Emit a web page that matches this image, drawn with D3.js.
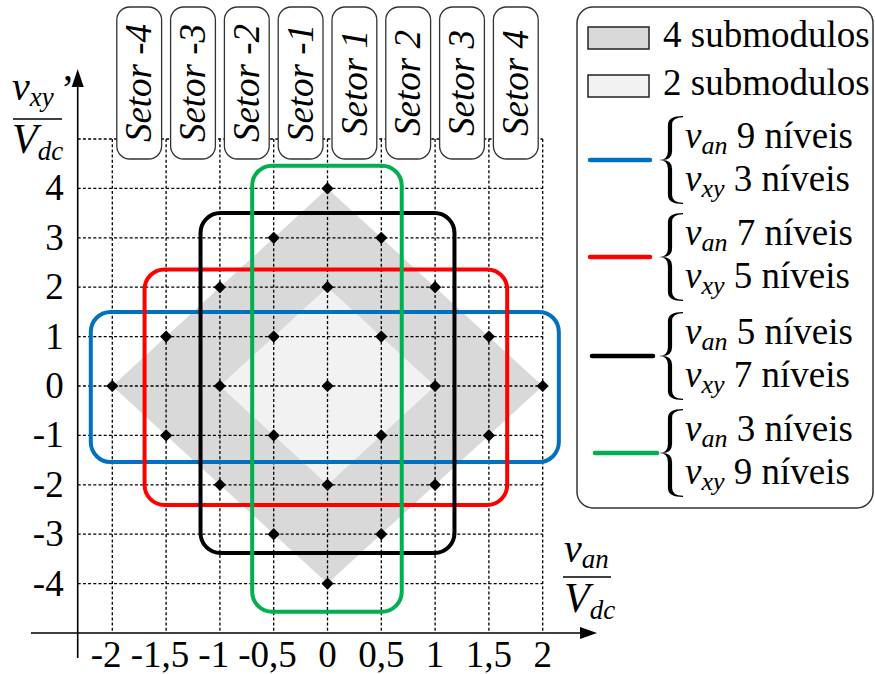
<!DOCTYPE html>
<html>
<head>
<meta charset="utf-8">
<script src="https://cdn.jsdelivr.net/npm/d3@7"></script>
<style>
  body { margin: 0; background: #fff; }
  svg { display: block; }
  svg text, svg tspan { font-family: "Liberation Serif" !important; fill: #000; }
</style>
</head>
<body>
<svg id="chart" width="875" height="674"></svg>
<script>
// Axis ticks (v_an / Vdc horizontally, v_xy' / Vdc vertically)
const xTicks = [-2, -1.5, -1, -0.5, 0, 0.5, 1, 1.5, 2];
const xTickLabels = ["-2", "-1,5", "-1", "-0,5", "0", "0,5", "1", "1,5", "2"];
const yTicks = [4, 3, 2, 1, 0, -1, -2, -3, -4];
const yTickLabels = ["4", "3", "2", "1", "0", "-1", "-2", "-3", "-4"];

// Sectors along v_an
const sectorLabels = ["Setor -4", "Setor -3", "Setor -2", "Setor -1", "Setor 1", "Setor 2", "Setor 3", "Setor 4"];
const sectorStart = [-2, -1.5, -1, -0.5, 0, 0.5, 1, 1.5];
const sectorEnd = [-1.5, -1, -0.5, 0, 0.5, 1, 1.5, 2];

// Available voltage vectors
const pointX = [0, -0.5, 0.5, -1, 0, 1, -1.5, -0.5, 0.5, 1.5, -2, -1, 0, 1, 2, -1.5, -0.5, 0.5, 1.5, -1, 0, 1, -0.5, 0.5, 0];
const pointY = [4, 3, 3, 2, 2, 2, 1, 1, 1, 1, 0, 0, 0, 0, 0, -1, -1, -1, -1, -2, -2, -2, -3, -3, -4];

// Regions reachable with 4 and 2 submodules
const region4X = [0, 2, 0, -2];
const region4Y = [4, 0, -4, 0];
const region2X = [0, 1, 0, -1];
const region2Y = [2, 0, -2, 0];
const regionNames = ["4 submodulos", "2 submodulos"];

// Operating windows: levels of v_an and v_xy, and their limits
const vanLevels = [9, 7, 5, 3];
const vxyLevels = [3, 5, 7, 9];
const limitXMin = [-2.2, -1.7, -1.18, -0.7];
const limitXMax = [2.15, 1.67, 1.18, 0.69];
const limitYMin = [-1.54, -2.41, -3.38, -4.57];
const limitYMax = [1.5, 2.36, 3.5, 4.46];

const windowColors = ["#0070c0", "#ff0000", "#000000", "#00b050"];
const regionColors = ["#d9d9d9", "#f2f2f2"];
const SERIF = '"Liberation Serif"';
const FONT = 37;

const svg = d3.select("#chart");
const txt = (g) => g.append("text").attr("font-family", "Liberation Serif")
  .style("font-family", SERIF, "important");

const x = d3.scaleLinear().domain([-2, 2]).range([112.3, 542.7]);
const y = d3.scaleLinear().domain([-5, 5]).range([633, 139]);
const axisX = 77.7;

// Shaded regions
const poly = (xs, ys) => xs.map((v, i) => [x(v), y(ys[i])]);
svg.append("polygon").attr("points", poly(region4X, region4Y).join(" ")).attr("fill", regionColors[0]);
svg.append("polygon").attr("points", poly(region2X, region2Y).join(" ")).attr("fill", regionColors[1]);

// Dotted grid
const grid = svg.append("g").attr("stroke", "#000").attr("stroke-width", 1.3).attr("stroke-dasharray", "3,2.2");
grid.selectAll("line.v").data(xTicks).join("line")
  .attr("x1", d => x(d)).attr("x2", d => x(d)).attr("y1", y(5)).attr("y2", y(-5));
grid.selectAll("line.h").data([5].concat(yTicks)).join("line")
  .attr("x1", axisX).attr("x2", x(2)).attr("y1", d => y(d)).attr("y2", d => y(d));

// Sector labels
const sectors = svg.append("g");
sectorLabels.forEach((lab, i) => {
  const x0 = x(sectorStart[i]) + 4.5, x1 = x(sectorEnd[i]) - 4.5;
  sectors.append("rect").attr("x", x0).attr("y", 7).attr("width", x1 - x0).attr("height", 152)
    .attr("rx", 13).attr("fill", "#fff").attr("stroke", "#333").attr("stroke-width", 1.3);
  txt(sectors)
    .attr("transform", `translate(${(x0 + x1) / 2},83) rotate(-90)`)
    .attr("text-anchor", "middle").attr("dy", "0.33em")
    .style("font-style", "italic").attr("font-size", FONT).text(lab);
});

// Operating windows
svg.append("g").selectAll("rect").data(vanLevels).join("rect")
  .attr("x", (d, i) => x(limitXMin[i]))
  .attr("width", (d, i) => x(limitXMax[i]) - x(limitXMin[i]))
  .attr("y", (d, i) => y(limitYMax[i]))
  .attr("height", (d, i) => y(limitYMin[i]) - y(limitYMax[i]))
  .attr("rx", 20).attr("fill", "none")
  .attr("stroke", (d, i) => windowColors[i]).attr("stroke-width", 4);

// Vector points
const diamond = d3.symbol(d3.symbolSquare, 74);
svg.append("g").selectAll("path").data(pointX).join("path")
  .attr("d", diamond)
  .attr("transform", (d, i) => `translate(${x(d)},${y(pointY[i])}) rotate(45)`)
  .attr("fill", "#000");

// Axes lines with arrows
const axes = svg.append("g").attr("stroke", "#000").attr("stroke-width", 1.6);
axes.append("line").attr("x1", 31).attr("x2", 585).attr("y1", 633).attr("y2", 633);
axes.append("line").attr("x1", axisX).attr("x2", axisX).attr("y1", 658).attr("y2", 82);
svg.append("path").attr("d", `M597,633 L580,627 L580,639 Z`).attr("fill", "#000");
svg.append("path").attr("d", `M${axisX},69 L${axisX - 6},87 L${axisX + 6},87 Z`).attr("fill", "#000");

// Tick labels: numeric part centred on its grid line, sign hanging to the left
const hyphenW = 0.333 * FONT;
const xLab = svg.append("g");
xTicks.forEach((v, i) => {
  txt(xLab).attr("x", x(v) - (xTickLabels[i].startsWith("-") ? hyphenW / 2 : 0)).attr("y", 667)
    .attr("text-anchor", "middle").attr("font-size", FONT).text(xTickLabels[i]);
});
const yLab = svg.append("g");
yTicks.forEach((v, i) => {
  txt(yLab).attr("x", axisX - 14).attr("y", y(v) + 12)
    .attr("text-anchor", "end").attr("font-size", FONT).text(yTickLabels[i]);
});

// Axis titles
function fraction(g, xl, yNum, topSub, bar, yDen, bottomSub, prime) {
  const t1 = txt(g).attr("x", xl).attr("y", yNum).style("font-style", "italic");
  t1.append("tspan").attr("font-size", 40).text("v");
  t1.append("tspan").attr("font-size", 27).attr("dy", 6).text(topSub);
  if (prime) txt(g).attr("x", prime[0]).attr("y", prime[1]).attr("font-size", 40).text("’");
  g.append("line").attr("x1", bar[0]).attr("x2", bar[1]).attr("y1", bar[2]).attr("y2", bar[2])
    .attr("stroke", "#000").attr("stroke-width", 1.5);
  const t2 = txt(g).attr("x", xl).attr("y", yDen).style("font-style", "italic");
  t2.append("tspan").attr("font-size", 42).text("V");
  t2.append("tspan").attr("font-size", 27).attr("dy", 7).text(bottomSub);
}
fraction(svg.append("g"), 12, 100, "xy", [13, 62, 119], 153, "dc", [61, 102]);
fraction(svg.append("g"), 564, 562, "an", [563, 611, 577], 612, "dc", null);

// Legend
const lg = svg.append("g");
lg.append("rect").attr("x", 577).attr("y", 7).attr("width", 296).attr("height", 501)
  .attr("rx", 16).attr("fill", "#fff").attr("stroke", "#333").attr("stroke-width", 1.5);
regionNames.forEach((name, i) => {
  const yy = [27, 75][i];
  lg.append("rect").attr("x", 588).attr("y", yy).attr("width", 61).attr("height", 22)
    .attr("fill", regionColors[i]).attr("stroke", "#222").attr("stroke-width", 1.5);
  txt(lg).attr("x", 663).attr("y", yy + 20).attr("font-size", FONT).text(name);
});

function bracePath(x0, top, bottom) {
  const xs = x0 + 11, xe = x0 + 24, mid = (top + bottom) / 2, r = 9, t = 4.2;
  const a = xs - t / 2, b = xs + t / 2;
  return `M${xe},${top} Q${a},${top} ${a},${top + r} L${a},${mid - r} Q${a},${mid} ${x0},${mid}
    Q${a},${mid} ${a},${mid + r} L${a},${bottom - r} Q${a},${bottom} ${xe},${bottom}
    L${xe},${bottom - 1.3} Q${b},${bottom - 1.3} ${b},${bottom - r} L${b},${mid + r}
    Q${b},${mid} ${x0 + 3},${mid} Q${b},${mid} ${b},${mid - r} L${b},${top + r}
    Q${b},${top + 1.3} ${xe},${top + 1.3} Z`;
}

const lineY = [160, 257, 356, 453];
const lineX0 = [590, 590, 592, 595];
const lineX1 = [650, 650, 653, 657];
vanLevels.forEach((van, i) => {
  const ly = lineY[i];
  lg.append("line").attr("x1", lineX0[i]).attr("x2", lineX1[i]).attr("y1", ly).attr("y2", ly)
    .attr("stroke", windowColors[i]).attr("stroke-width", 4.5).attr("stroke-linecap", "round");
  lg.append("path").attr("d", bracePath(659, ly - 44, ly + 44)).attr("fill", "#000");
  const rows = [["an", van, ly - 12], ["xy", vxyLevels[i], ly + 31]];
  rows.forEach(([sub, lvl, by]) => {
    const t = txt(lg).attr("x", 685).attr("y", by);
    t.append("tspan").style("font-style", "italic").attr("font-size", FONT).text("v");
    t.append("tspan").style("font-style", "italic").attr("font-size", 26).attr("dy", 6).text(sub);
    t.append("tspan").attr("font-size", FONT).attr("dy", -6).text(" " + lvl + " níveis");
  });
});
</script>
</body>
</html>
